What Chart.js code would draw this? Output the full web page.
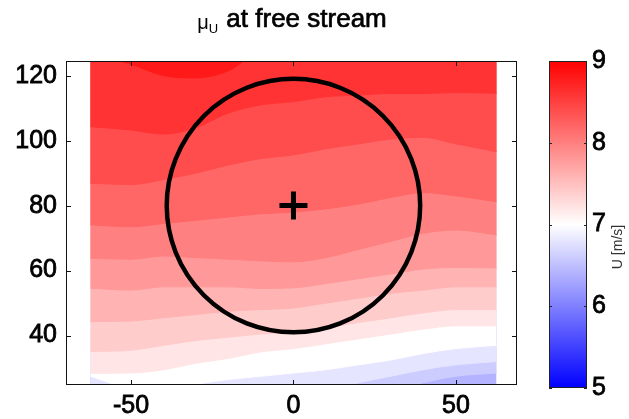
<!DOCTYPE html>
<html>
<head>
<meta charset="utf-8">
<script src="https://cdn.jsdelivr.net/npm/chart.js@4/dist/chart.umd.min.js"></script>
<style>
  html, body { margin: 0; padding: 0; background: #fff; }
  #wrap { position: relative; width: 629px; height: 419px; }
  canvas { position: absolute; left: 0; top: 0; }
</style>
</head>
<body>
<div id="wrap">
  <canvas id="main" width="629" height="419"></canvas>
  <canvas id="cbar" width="629" height="419"></canvas>
</div>
<script>
// ---------- data ----------
const titleMain = 'μ';
const titleSub = 'U';
const titleRest = ' at free stream';
const xTicks = [-50, 0, 50];
const yTicks = [40, 60, 80, 100, 120];
const xRange = [-70, 68.8];
const yRange = [24.8, 124.5];

// x positions (m) where each contour line was read
const xs = [-62.5, -50, -40, -30, -20, -10, 0, 10, 20, 30, 40, 50, 62.5];

// contour lines: height (m) of each level boundary at the xs positions
const contour_6_4 = [24.8, 24.8, 24.8, 24.8, 24.8, 24.8, 24.8, 24.8, 24.8, 24.8, 24.8, 24.8, 24.8];
const contour_6_6 = [22, 22, 22, 22, 22, 22, 22, 22, 22, 23, 25.5, 27.5, 28.5];
const contour_6_8 = [22, 22, 22, 22, 22, 22, 22, 23, 25.5, 27.5, 29.5, 31, 32];
const contour_7_0 = [27.5, 23.5, 22.5, 25, 26.5, 27.5, 28.5, 29.5, 31, 32.5, 34.5, 36, 37];
const contour_7_2 = [28.4, 28.5, 29.5, 31.5, 33, 35, 36, 37.5, 39, 40.5, 42, 43, 43];
const contour_7_4 = [35.1, 35.5, 37, 38.5, 39.5, 40.5, 41, 42.5, 44, 45.5, 47, 48, 48];
const contour_7_6 = [44.3, 44.5, 45.5, 46.5, 47.5, 48, 48.5, 50, 51.5, 53, 54, 55, 55];
const contour_7_8 = [54.6, 54, 55, 55, 55, 54.5, 54.7, 56, 57.5, 59, 60.5, 61, 60.8];
const contour_8_0 = [63.8, 63.5, 64.5, 64, 63.5, 63, 62.7, 64, 66.5, 69, 71.5, 72.5, 71];
const contour_8_2 = [74.1, 73.5, 74.5, 75.5, 76.5, 77.5, 78, 79, 80.5, 82.5, 84, 83, 81.2];
const contour_8_4 = [86.9, 86.5, 88, 90, 92.5, 94.5, 95.6, 97.5, 99, 100.5, 101, 99, 96.6];
const contour_8_6 = [104.3, 103.3, 102, 104, 108.5, 111, 112, 113.5, 114, 114.5, 114.5, 114.8, 114.6];
const contour_8_8 = [127, 123.5, 120, 119.3, 121.5, 127, 127, 127, 127, 127, 127, 127, 127];

const levels = [6.4, 6.6, 6.8, 7.0, 7.2, 7.4, 7.6, 7.8, 8.0, 8.2, 8.4, 8.6, 8.8];
const contourLines = [contour_6_4, contour_6_6, contour_6_8, contour_7_0, contour_7_2, contour_7_4,
  contour_7_6, contour_7_8, contour_8_0, contour_8_2, contour_8_4, contour_8_6, contour_8_8];

// rotor: hub position and radius (m)
const hubX = [0];
const hubY = [80];
const rotorRadius = 39;

// colour bar
const cbTicks = [5, 6, 7, 8, 9];
const cbStopValues = [5, 7, 9];
const cbStopColors = ['#0000ff', '#ffffff', '#ff0000'];
const cbLabel = 'U [m/s]';

// ---------- helpers ----------
const FONT = "'Liberation Sans', Arial, Helvetica, sans-serif";
function hexToRgb(h) { return [1, 3, 5].map(i => parseInt(h.substr(i, 2), 16)); }
function cmap(v) {
  const s = cbStopValues, c = cbStopColors.map(hexToRgb);
  if (v <= s[0]) return `rgb(${c[0].join(',')})`;
  for (let i = 0; i < s.length - 1; i++) {
    if (v <= s[i + 1]) {
      const t = (v - s[i]) / (s[i + 1] - s[i]);
      const r = c[i].map((a, k) => Math.round(a + (c[i + 1][k] - a) * t));
      return `rgb(${r.join(',')})`;
    }
  }
  return `rgb(${c[c.length - 1].join(',')})`;
}

// ---------- main chart ----------
const n = levels.length;
const datasets = levels.map((lv, i) => ({
  label: 'U ≥ ' + lv,
  data: xs.map((x, k) => ({ x, y: contourLines[i][k] })),
  backgroundColor: cmap(lv),
  borderColor: cmap(lv),
  borderWidth: 1,
  pointRadius: 0,
  fill: 'end',
  cubicInterpolationMode: 'monotone',
  order: n - i + 1
}));
datasets.push({
  label: 'hub',
  data: hubX.map((x, k) => ({ x, y: hubY[k] })),
  showLine: false,
  fill: false,
  pointStyle: 'cross',
  pointRadius: 14,
  borderWidth: 5,
  borderColor: '#000',
  backgroundColor: '#000',
  order: -1
});

const frameAndRotor = {
  id: 'frameAndRotor',
  afterDatasetsDraw(chart) {
    const { ctx, scales: { x, y } } = chart;
    ctx.save();
    const cx = x.getPixelForValue(hubX[0]);
    const cy = y.getPixelForValue(hubY[0]);
    const rx = Math.abs(x.getPixelForValue(hubX[0] + rotorRadius) - cx);
    const ry = Math.abs(y.getPixelForValue(hubY[0] + rotorRadius) - cy);
    ctx.beginPath();
    ctx.ellipse(cx, cy, rx, ry, 0, 0, Math.PI * 2);
    ctx.lineWidth = 4.5;
    ctx.strokeStyle = '#000';
    ctx.stroke();
    ctx.restore();
  },
  afterDraw(chart) {
    const { ctx, chartArea: a, scales: { x, y } } = chart;
    ctx.save();
    ctx.strokeStyle = '#111';
    ctx.lineWidth = 1;
    ctx.strokeRect(a.left + 0.5, a.top + 0.5, a.right - a.left - 1, a.bottom - a.top - 1);
    const tl = 5;
    ctx.beginPath();
    xTicks.forEach(v => {
      const px = Math.round(x.getPixelForValue(v)) + 0.5;
      ctx.moveTo(px, a.bottom); ctx.lineTo(px, a.bottom - tl);
      ctx.moveTo(px, a.top); ctx.lineTo(px, a.top + tl);
    });
    yTicks.forEach(v => {
      const py = Math.round(y.getPixelForValue(v)) + 0.5;
      ctx.moveTo(a.left, py); ctx.lineTo(a.left + tl, py);
      ctx.moveTo(a.right, py); ctx.lineTo(a.right - tl, py);
    });
    ctx.stroke();
    // title with subscript
    ctx.fillStyle = '#000';
    ctx.strokeStyle = '#000';
    ctx.textBaseline = 'alphabetic';
    const fMain = `20px ${FONT}`, fSub = `13px ${FONT}`, fRest = `26px ${FONT}`;
    ctx.font = fMain; const w1 = ctx.measureText(titleMain).width;
    ctx.font = fSub; const w2 = ctx.measureText(titleSub).width;
    ctx.font = fRest; const w3 = ctx.measureText(titleRest).width;
    const total = w1 + w2 + w3;
    let tx = (a.left + a.right) / 2 - total / 2;
    const base = 27;
    ctx.textAlign = 'left';
    ctx.font = fMain; ctx.fillText(titleMain, tx, base + 2); tx += w1;
    ctx.font = fSub; ctx.fillText(titleSub, tx, base + 6); tx += w2 + 1;
    ctx.font = fRest; ctx.fillText(titleRest, tx, base);
    ctx.lineWidth = 0.7; ctx.strokeText(titleRest, tx, base);
    ctx.restore();
  }
};

const tickFont = { family: FONT, size: 25 };
new Chart(document.getElementById('main'), {
  type: 'line',
  data: { datasets },
  options: {
    responsive: false,
    animation: false,
    events: [],
    layout: { padding: { top: 61, right: 112, left: 0, bottom: 0 } },
    plugins: { legend: { display: false }, tooltip: { enabled: false }, title: { display: false } },
    scales: {
      x: {
        type: 'linear', min: xRange[0], max: xRange[1],
        afterFit: s => { s.height = 34; },
        afterBuildTicks: s => { s.ticks = xTicks.map(v => ({ value: v })); },
        ticks: { font: tickFont, color: '#000', textStrokeColor: '#000', textStrokeWidth: 0.8, padding: 6, maxRotation: 0, autoSkip: false },
        grid: { display: false, drawTicks: false },
        border: { display: false }
      },
      y: {
        type: 'linear', min: yRange[0], max: yRange[1],
        afterFit: s => { s.width = 66; },
        afterBuildTicks: s => { s.ticks = yTicks.map(v => ({ value: v })); },
        ticks: { font: tickFont, color: '#000', textStrokeColor: '#000', textStrokeWidth: 0.8, padding: 9, autoSkip: false },
        grid: { display: false, drawTicks: false },
        border: { display: false }
      }
    }
  },
  plugins: [frameAndRotor]
});

// ---------- colour bar ----------
const cbFrame = {
  id: 'cbFrame',
  afterDraw(chart) {
    const { ctx, chartArea: a, scales: { y } } = chart;
    ctx.save();
    ctx.strokeStyle = '#222';
    ctx.lineWidth = 1;
    ctx.strokeRect(a.left + 0.5, a.top + 0.5, a.right - a.left - 1, a.bottom - a.top - 1);
    ctx.beginPath();
    cbTicks.forEach(v => {
      const py = Math.round(y.getPixelForValue(v)) + 0.5;
      ctx.moveTo(a.left, py); ctx.lineTo(a.left + 3, py);
      ctx.moveTo(a.right, py); ctx.lineTo(a.right - 3, py);
    });
    ctx.stroke();
    ctx.translate(618, 247);
    ctx.rotate(-Math.PI / 2);
    ctx.font = `14px ${FONT}`;
    ctx.fillStyle = '#333';
    ctx.textAlign = 'center';
    ctx.textBaseline = 'middle';
    ctx.fillText(cbLabel, 0, 0);
    ctx.restore();
  }
};

new Chart(document.getElementById('cbar'), {
  type: 'bar',
  data: {
    labels: ['U'],
    datasets: [{
      data: [[cbTicks[0], cbTicks[cbTicks.length - 1]]],
      backgroundColor: (c) => {
        const ch = c.chart;
        if (!ch.chartArea) return '#fff';
        const y = ch.scales.y;
        const lo = cbStopValues[0], hi = cbStopValues[cbStopValues.length - 1];
        const g = ch.ctx.createLinearGradient(0, y.getPixelForValue(lo), 0, y.getPixelForValue(hi));
        cbStopValues.forEach((v, i) => g.addColorStop((v - lo) / (hi - lo), cbStopColors[i]));
        return g;
      },
      borderWidth: 0,
      barPercentage: 1,
      categoryPercentage: 1
    }]
  },
  options: {
    responsive: false,
    animation: false,
    events: [],
    layout: { padding: { left: 549, top: 61, bottom: 31, right: 0 } },
    plugins: { legend: { display: false }, tooltip: { enabled: false } },
    scales: {
      x: { display: false },
      y: {
        position: 'right', min: cbTicks[0], max: cbTicks[cbTicks.length - 1],
        afterFit: s => { s.width = 42; },
        afterBuildTicks: s => { s.ticks = cbTicks.map(v => ({ value: v })); },
        ticks: { font: tickFont, color: '#000', textStrokeColor: '#000', textStrokeWidth: 0.8, padding: 5 },
        grid: { display: false, drawTicks: false },
        border: { display: false }
      }
    }
  },
  plugins: [cbFrame]
});
</script>
</body>
</html>
